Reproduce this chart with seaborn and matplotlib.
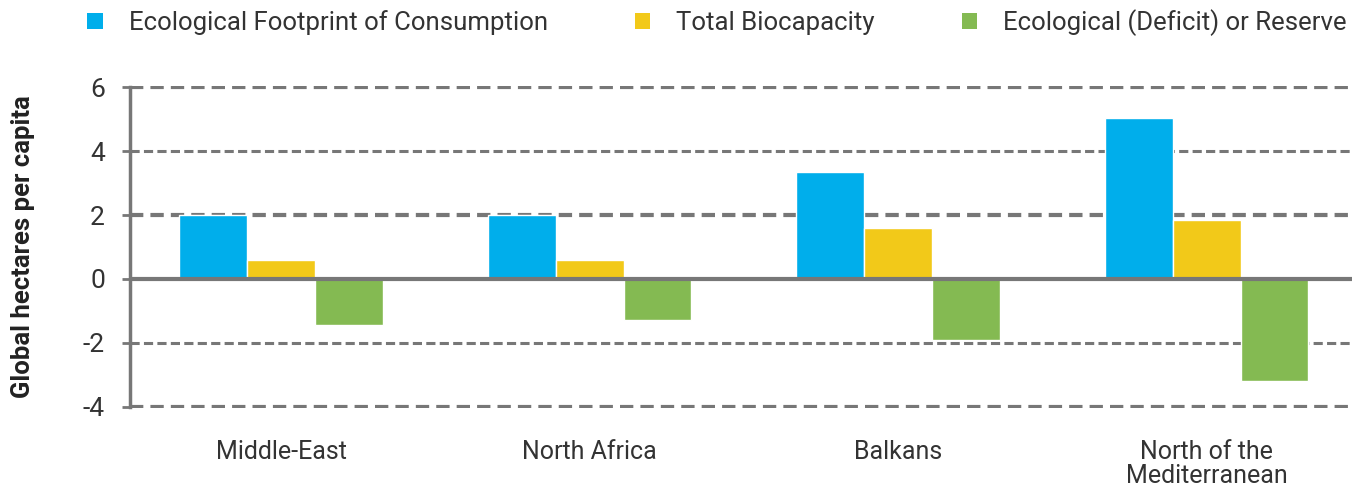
import pandas as pd
import seaborn as sns
import matplotlib.pyplot as plt
from matplotlib.patches import Patch

#data
regions = ["Middle-East", "North Africa", "Balkans", "North of the\nMediterranean"]
footprint = [2.0, 2.0, 3.35, 5.05]
biocapacity = [0.6, 0.6, 1.6, 1.85]
deficit = [-1.45, -1.3, -1.9, -3.2]
series = ["Ecological Footprint of Consumption", "Total Biocapacity", "Ecological (Deficit) or Reserve"]
colors = ["#00AEEB", "#F2C919", "#84BA52"]
yticks = [-4, -2, 0, 2, 4, 6]

df = pd.DataFrame({
    "region": regions * 3,
    "series": [series[0]] * 4 + [series[1]] * 4 + [series[2]] * 4,
    "value": footprint + biocapacity + deficit,
})

sns.set_style("white")
plt.rcParams["font.family"] = ["Roboto", "DejaVu Sans"]
grey = "#777777"
txt = "#333333"

fig = plt.figure(figsize=(13.68, 4.9), dpi=100)
ax = fig.add_axes([0.095, 0.167, 0.893, 0.658])

# gridlines first so bars sit on top
for y in yticks:
    if y == 0:
        continue
    if y in (6, 2, -4):
        ax.axhline(y, color=grey, lw=3.0, ls=(0, (3.2, 1.7)), zorder=0)
    else:
        ax.axhline(y, color=grey, lw=2.2, ls=(0, (3.0, 1.4)), zorder=0)

sns.barplot(data=df, x="region", y="value", hue="series", hue_order=series,
            palette=colors, width=0.66, edgecolor="white", linewidth=1,
            saturation=1, ax=ax, zorder=2)

ax.axhline(0, color=grey, lw=3, zorder=3)

ax.set_ylim(-4.05, 6.05)
ax.set_xlim(-0.49, 3.47)
ax.set_yticks(yticks)
ax.set_yticklabels([str(t) for t in yticks], fontsize=19, color=txt)
ax.tick_params(axis="y", length=6, width=2, color=grey, pad=12, left=True)
ax.tick_params(axis="x", length=0, pad=23, labelsize=18, labelcolor=txt)
for lab in ax.get_xticklabels():
    lab.set_linespacing(1.0)

for s in ["top", "right", "bottom"]:
    ax.spines[s].set_visible(False)
ax.spines["left"].set_color(grey)
ax.spines["left"].set_linewidth(2.5)
ax.spines["left"].set_bounds(-4, 6)

ax.set_xlabel("")
ax.set_ylabel("Global hectares per capita", fontsize=18.5, fontweight="bold",
              color="#222222", labelpad=0)
ax.yaxis.set_label_coords(-0.078, 0.5)

ax.get_legend().remove()
handles = [Patch(facecolor=c, edgecolor="none") for c in colors]
fig.legend(handles, series, loc="upper left", bbox_to_anchor=(0.047, 1.028),
           ncol=3, frameon=False, fontsize=18.5, labelcolor=txt,
           handlelength=0.6, handleheight=0.6, handletextpad=1.0,
           columnspacing=3.4)

plt.savefig("out.png", dpi=100)
